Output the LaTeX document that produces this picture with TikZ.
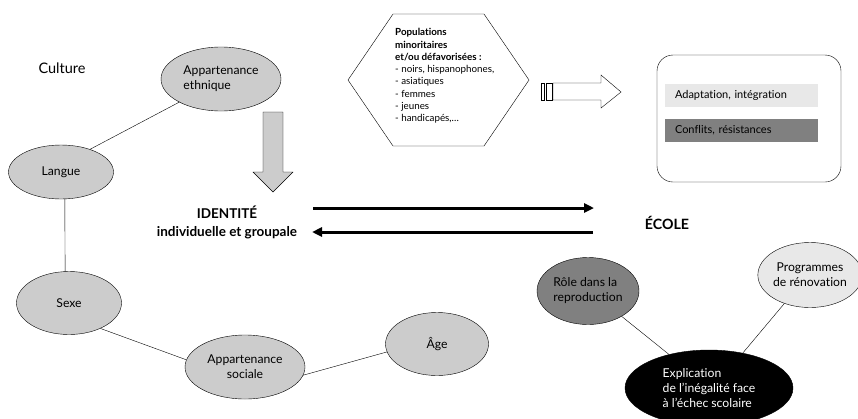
\documentclass[tikz,border=0pt]{standalone}
\usepackage{fontspec}
\setmainfont{Lato}[Ligatures=NoCommon]
\usetikzlibrary{shapes.geometric,arrows.meta}
\definecolor{gris}{RGB}{204,204,204}
\definecolor{grisclair}{RGB}{232,232,232}
\definecolor{grisfonce}{RGB}{128,128,128}
\tikzset{
	bulle/.style={ellipse, draw, fill=gris, inner sep=0pt, font=\fontsize{12.2}{15}\selectfont},
	fleche/.style={line width=3pt, -{Triangle[length=10pt,width=9pt]}},
	bande/.style={inner xsep=10pt, text width=133pt, align=left, minimum height=23pt, font=\fontsize{11}{13}\selectfont},
}

\begin{document}
\begin{tikzpicture}[x=1pt, y=-1pt]
	\useasboundingbox (0,0) rectangle (858,418);
	\node[font=\fontsize{14.5}{16}\selectfont] (culture) at (62,68) {Culture};
	\node[bulle, minimum width=120pt, minimum height=64pt, align=left] (ethnie) at (221,79) {Appartenance\\ethnique};
	\node[bulle, minimum width=105pt, minimum height=54pt] (langue) at (61,172) {Langue\hspace{16pt}};
	\node[bulle, minimum width=105pt, minimum height=63pt] (sexe) at (69,303) {Sexe};
	\node[bulle, minimum width=120pt, minimum height=64pt, align=center] (sociale) at (245,367) {Appartenance\\sociale};
	\node[bulle, minimum width=103pt, minimum height=63pt] (age) at (437,344) {Âge};
	\draw (ethnie.209) -- (langue.38);
	\draw (langue.-82) -- (sexe.97);
	\draw (sexe.-39) -- (sociale.173);
	\draw (sociale.-8) -- (age.189);
	\draw[fill=gris] (263,112) -- (283,112) -- (283,172) -- (293,172) -- (273,192) -- (253,172) -- (263,172) -- cycle;
	\node[font=\bfseries\fontsize{13.5}{18}\selectfont, align=center] (identite) at (227,222) {IDENTITÉ\\individuelle et groupale};
	\node[font=\bfseries\fontsize{14.2}{16}\selectfont] (ecole) at (667,223) {ÉCOLE};
	\coordinate (allerA) at (313,208);
	\coordinate (allerB) at (594,208);
	\coordinate (retourA) at (593,232);
	\coordinate (retourB) at (312,232);
	\draw[fleche] (allerA) -- (allerB);
	\draw[fleche] (retourA) -- (retourB);
	\draw (348,80) -- (393,14) -- (484,14) -- (529,80) -- (484,146) -- (393,146) -- cycle;
	\node[anchor=west, inner sep=0pt, align=left, font=\fontsize{9.8}{12.3}\selectfont] (populations) at (395,76) {\textbf{Populations}\\\textbf{minoritaires}\\\textbf{et/ou défavorisées :}\\- noirs, hispanophones,\\- asiatiques\\- femmes\\- jeunes\\- handicapés,…};
	\draw (541,83) rectangle (544,100);
	\draw (546,83) rectangle (552,100);
	\draw (553,83) -- (601,83) -- (601,75) -- (621,92) -- (601,108) -- (601,100) -- (553,100) -- cycle;
	\node[draw, rounded corners=16pt, minimum width=184pt, minimum height=127pt] (cadre) at (749,118.5) {};
	\node[bande, fill=grisclair] (adaptation) at (741.5,95.5) {Adaptation, intégration};
	\node[bande, fill=grisfonce] (conflits) at (741.5,130.5) {Conflits, résistances};
	\node[bulle, fill=grisfonce, minimum width=102pt, minimum height=67pt, align=left] (role) at (588,291) {Rôle dans la\\reproduction};
	\node[bulle, fill=grisclair, minimum width=96pt, minimum height=65pt, align=center] (programmes) at (810,275) {Programmes\\de rénovation};
	\node[bulle, fill=black, text=white, minimum width=168pt, minimum height=76pt, align=left] (explication) at (709,388) {Explication\\de l’inégalité face\\à l’échec scolaire\hspace{14pt}};
	\draw (role.-37) -- (explication.140);
	\draw (programmes.-132) -- (explication.46);
\end{tikzpicture}
\end{document}
